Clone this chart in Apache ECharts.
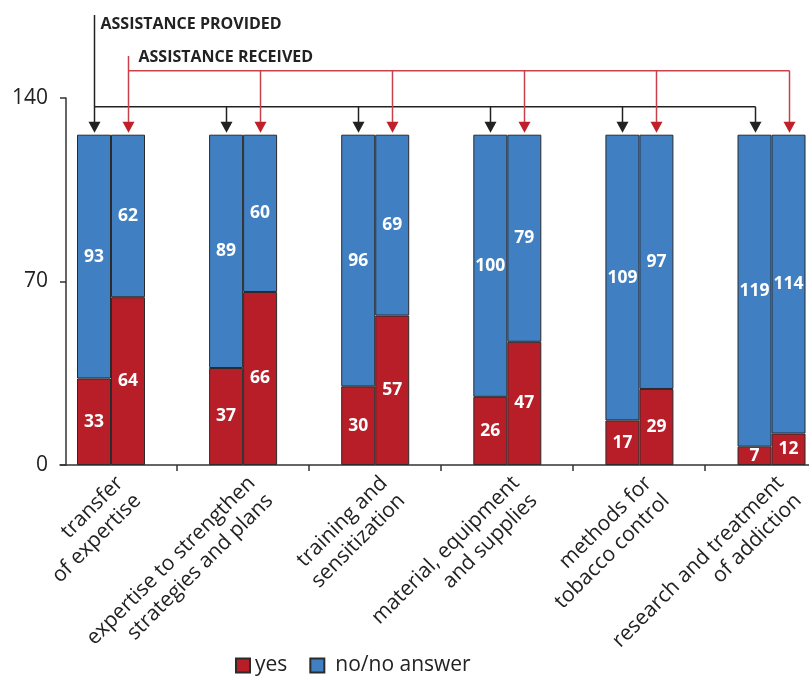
<!DOCTYPE html>
<html>
<head>
<meta charset="utf-8">
<script src="https://cdn.jsdelivr.net/npm/echarts@6/dist/echarts.min.js"></script>
<style>
  html, body { margin: 0; padding: 0; background: #fff; }
  #chart { width: 809px; height: 677px; }
</style>
</head>
<body>
<div id="chart"></div>
<script>
// Types of assistance (x categories)
const categories = [
  'transfer\nof expertise',
  'expertise to strengthen\nstrategies and plans',
  'training and\nsensitization',
  'material, equipment\nand supplies',
  'methods for\ntobacco control',
  'research and treatment\nof addiction'
];
// Assistance provided: yes / no or no answer
const providedYes = [33, 37, 30, 26, 17, 7];
const providedNo = [93, 89, 96, 100, 109, 119];
// Assistance received: yes / no or no answer
const receivedYes = [64, 66, 57, 47, 29, 12];
const receivedNo = [62, 60, 69, 79, 97, 114];
// Value axis ticks
const yTicks = [0, 70, 140];

const RED = '#B81E27';
const BLUE = '#3F7FC2';
const EDGE = '#2b2b2b';
const AXIS = '#333';
const FONT = 'Open Sans';
const BAR_W = 34;

const chart = echarts.init(document.getElementById('chart'), null, { renderer: 'canvas' });

const segLabel = {
  show: true,
  position: 'inside',
  color: '#fff',
  fontFamily: FONT,
  fontWeight: 'bold',
  fontSize: 17.5
};

function barSeries(name, stack, data, color) {
  return {
    name: name,
    type: 'bar',
    stack: stack,
    xAxisIndex: 0,
    yAxisIndex: 0,
    barWidth: BAR_W,
    barGap: '0%',
    data: data,
    itemStyle: { color: color, borderColor: EDGE, borderWidth: 1 },
    label: segLabel,
    emphasis: { disabled: true }
  };
}

const TOP = 98, HEIGHT = 367;

chart.setOption({
  animation: false,
  grid: [
    // bars: group centres sit on the category positions
    { left: 111, right: 37, top: TOP, height: HEIGHT },
    // base line
    { left: 60, right: 0, top: TOP, height: HEIGHT },
    // separators between the groups
    { left: 177, right: 104, top: TOP, height: HEIGHT }
  ],
  legend: {
    left: 230,
    top: 650,
    icon: 'rect',
    itemWidth: 14,
    itemHeight: 14,
    itemGap: 22,
    data: ['yes', { name: 'no/no answer', textStyle: { padding: [0, 0, 0, 6] } }],
    textStyle: { fontFamily: FONT, fontSize: 21, color: '#222' }
  },
  xAxis: [
    {
      type: 'category',
      gridIndex: 0,
      boundaryGap: false,
      data: categories,
      axisLine: { show: false },
      axisTick: { show: false },
      axisLabel: {
        interval: 0,
        rotate: 45,
        margin: 6,
        align: 'right',
        verticalAlign: 'top',
        fontFamily: FONT,
        fontSize: 21,
        lineHeight: 25,
        color: '#222'
      }
    },
    {
      type: 'value',
      gridIndex: 1,
      axisLine: { show: true, onZero: false, lineStyle: { color: AXIS, width: 1.5 } },
      axisTick: { show: false },
      axisLabel: { show: false },
      splitLine: { show: false }
    },
    {
      type: 'value',
      gridIndex: 2,
      min: 0,
      max: categories.length - 2,
      interval: 1,
      axisLine: { show: false, onZero: false },
      axisTick: { show: true, length: 6, lineStyle: { color: AXIS, width: 1.5 } },
      axisLabel: { show: false },
      splitLine: { show: false }
    }
  ],
  yAxis: [
    {
      type: 'value',
      gridIndex: 0,
      min: yTicks[0],
      max: yTicks[yTicks.length - 1],
      interval: yTicks[1] - yTicks[0],
      offset: 45,
      axisLine: { show: true, lineStyle: { color: AXIS, width: 1.5 } },
      axisTick: { show: true, length: 6, lineStyle: { color: AXIS, width: 1.5 } },
      axisLabel: { margin: 18, fontFamily: FONT, fontSize: 21, color: '#222' },
      splitLine: { show: false }
    },
    { type: 'value', gridIndex: 1, show: false },
    { type: 'value', gridIndex: 2, show: false }
  ],
  series: [
    barSeries('yes', 'provided', providedYes, RED),
    barSeries('no/no answer', 'provided', providedNo, BLUE),
    barSeries('yes', 'received', receivedYes, RED),
    barSeries('no/no answer', 'received', receivedNo, BLUE)
  ]
});

// Bracket annotations linking the "provided" and "received" bars
function drawBrackets() {
  const px = (i, v) => chart.convertToPixel({ gridIndex: 0 }, [i, v]);
  const total = providedYes[0] + providedNo[0];
  const barTop = px(0, total)[1];
  const tipY = barTop - 2;
  const headH = 11, headW = 6;
  const blackY = barTop - 28;
  const redY = barTop - 64;
  const BLACK = '#222';
  const LINE_RED = '#C9424B';
  const HEAD_RED = '#C0202A';
  const els = [];

  const provX = categories.map((c, i) => Math.round(px(i, 0)[0] - BAR_W / 2) + 0.5);
  const recvX = categories.map((c, i) => Math.round(px(i, 0)[0] + BAR_W / 2) + 0.5);

  function arrow(x, y0, lineColor, headColor, z) {
    els.push({ type: 'line', z: z, shape: { x1: x, y1: y0, x2: x, y2: tipY - headH + 1 },
      style: { stroke: lineColor, lineWidth: 1.5 } });
    els.push({ type: 'polygon', z: z, shape: { points: [[x - headW, tipY - headH], [x + headW, tipY - headH], [x, tipY]] },
      style: { fill: headColor } });
  }

  // provided (black)
  els.push({ type: 'line', z: 10, shape: { x1: provX[0], y1: blackY, x2: provX[provX.length - 1], y2: blackY },
    style: { stroke: BLACK, lineWidth: 1.5 } });
  provX.forEach((x, i) => arrow(x, i === 0 ? 15 : blackY, BLACK, BLACK, 10));
  els.push({ type: 'text', z: 10, x: provX[0] + 6, y: 24,
    style: { text: 'ASSISTANCE PROVIDED', fill: '#222', font: 'bold 16px "Open Sans"', verticalAlign: 'middle' } });

  // received (red)
  els.push({ type: 'line', z: 11, shape: { x1: recvX[0], y1: redY, x2: recvX[recvX.length - 1], y2: redY },
    style: { stroke: LINE_RED, lineWidth: 1.5 } });
  recvX.forEach((x, i) => arrow(x, i === 0 ? 56 : redY, LINE_RED, HEAD_RED, 11));
  els.push({ type: 'text', z: 11, x: recvX[0] + 10, y: 57,
    style: { text: 'ASSISTANCE RECEIVED', fill: '#222', font: 'bold 16px "Open Sans"', verticalAlign: 'middle' } });

  chart.setOption({ graphic: els });
}
drawBrackets();
</script>
</body>
</html>
